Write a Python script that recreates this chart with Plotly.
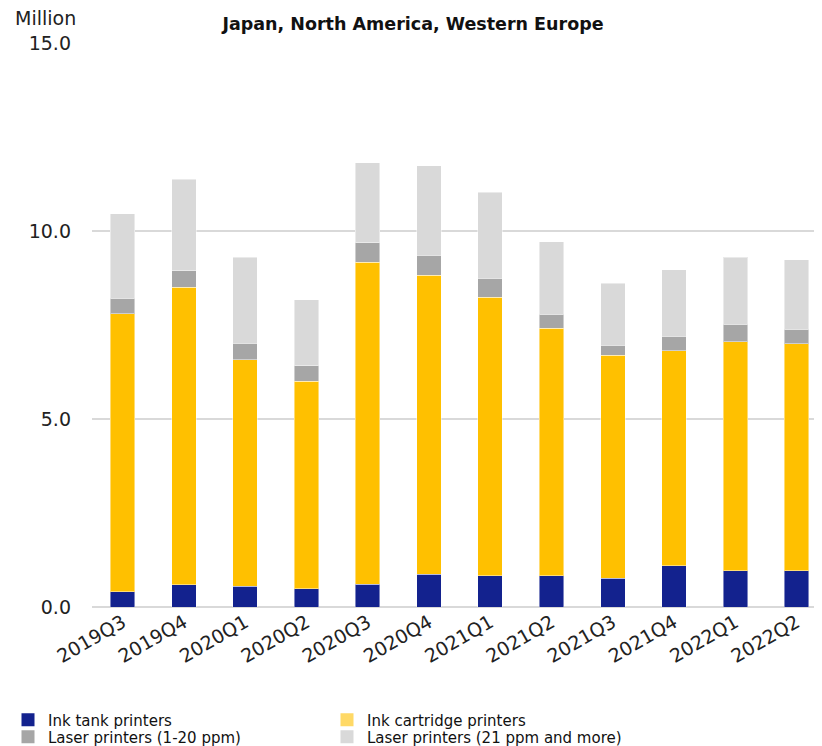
import plotly.graph_objects as go

quarters = ["2019Q3", "2019Q4", "2020Q1", "2020Q2", "2020Q3", "2020Q4",
            "2021Q1", "2021Q2", "2021Q3", "2021Q4", "2022Q1", "2022Q2"]
ink_tank = [0.40, 0.59, 0.55, 0.49, 0.61, 0.87, 0.83, 0.83, 0.77, 1.10, 0.96, 0.96]
ink_cartridge = [7.40, 7.92, 6.03, 5.52, 8.56, 7.95, 7.41, 6.58, 5.92, 5.71, 6.10, 6.04]
laser_1_20 = [0.41, 0.43, 0.43, 0.40, 0.52, 0.53, 0.50, 0.38, 0.27, 0.39, 0.46, 0.39]
laser_21_plus = [2.25, 2.43, 2.29, 1.76, 2.13, 2.39, 2.29, 1.93, 1.65, 1.77, 1.78, 1.84]
series_names = ["Ink tank printers", "Ink cartridge printers",
                "Laser printers (1-20 ppm)", "Laser printers (21 ppm and more)"]
y_ticks = [0, 5, 10, 15]
y_tick_labels = ["0.0", "5.0", "10.0", "15.0"]

FONT = "DejaVu Sans"
bar_colors = ["#13228E", "#FFC000", "#A6A6A6", "#D9D9D9"]
swatch_colors = ["#13228E", "#FFD966", "#A6A6A6", "#D9D9D9"]
line = dict(width=1, color="rgba(255,255,255,0.45)")

# page has an 8px body margin, so the figure is 8px smaller each way
W, H = 814, 738

fig = go.Figure()
for name, vals, col in zip(series_names,
                           [ink_tank, ink_cartridge, laser_1_20, laser_21_plus],
                           bar_colors):
    fig.add_trace(go.Bar(x=quarters, y=vals, name=name, showlegend=False,
                         marker=dict(color=col, line=line)))

# legend swatches (one legend per entry, laid out as 2 columns x 2 rows)
legend_ids = ["legend", "legend2", "legend3", "legend4"]
for name, col, lid in zip(series_names, swatch_colors, legend_ids):
    fig.add_trace(go.Scatter(x=[None], y=[None], mode="markers", name=name,
                             legend=lid, showlegend=True,
                             marker=dict(symbol="square", size=13, color=col)))

col_x = [0, 319 / W]
row_y = [1 - 712 / H, 1 - 729 / H]
pos = [(col_x[0], row_y[0]), (col_x[1], row_y[0]), (col_x[0], row_y[1]), (col_x[1], row_y[1])]
legend_font = dict(size=15, family=FONT, color="#111111")
legends = {}
for lid, (lx, ly) in zip(legend_ids, pos):
    legends[lid] = dict(xref="container", yref="container", x=lx, y=ly,
                        xanchor="left", yanchor="middle", font=legend_font,
                        bgcolor="rgba(0,0,0,0)", itemwidth=30)

fig.update_layout(
    barmode="stack",
    bargap=0.6,
    width=W, height=H,
    margin=dict(l=84, r=0, t=35, b=139, autoexpand=False),
    paper_bgcolor="white", plot_bgcolor="white",
    font=dict(family=FONT, color="#222222"),
    title=dict(text="Japan, North America, Western Europe",
               x=405 / W, xref="container", xanchor="center",
               y=1 - 16 / H, yref="container", yanchor="middle",
               font=dict(size=17.5, family=FONT, color="#111111", weight="bold")),
    annotations=[dict(text="Million", xref="paper", yref="paper",
                      x=-79 / 730, y=1.0, xanchor="left", yanchor="middle",
                      yshift=25, showarrow=False,
                      font=dict(size=19, family=FONT, color="#222222"))],
    **legends,
)
fig.update_xaxes(type="category", range=[-0.5, 11.415],
                 tickangle=-30, tickfont=dict(size=19, family=FONT, color="#222222"),
                 showgrid=False, showline=False, ticks="")
fig.update_yaxes(range=[0, 15], tickvals=y_ticks, ticktext=y_tick_labels,
                 tickfont=dict(size=19, family=FONT, color="#222222"),
                 showgrid=True, gridcolor="#D9D9D9", gridwidth=2,
                 zeroline=True, zerolinecolor="#D9D9D9", zerolinewidth=2,
                 ticks="", ticklabelstandoff=20, showline=False)

fig.write_html("out.html")
